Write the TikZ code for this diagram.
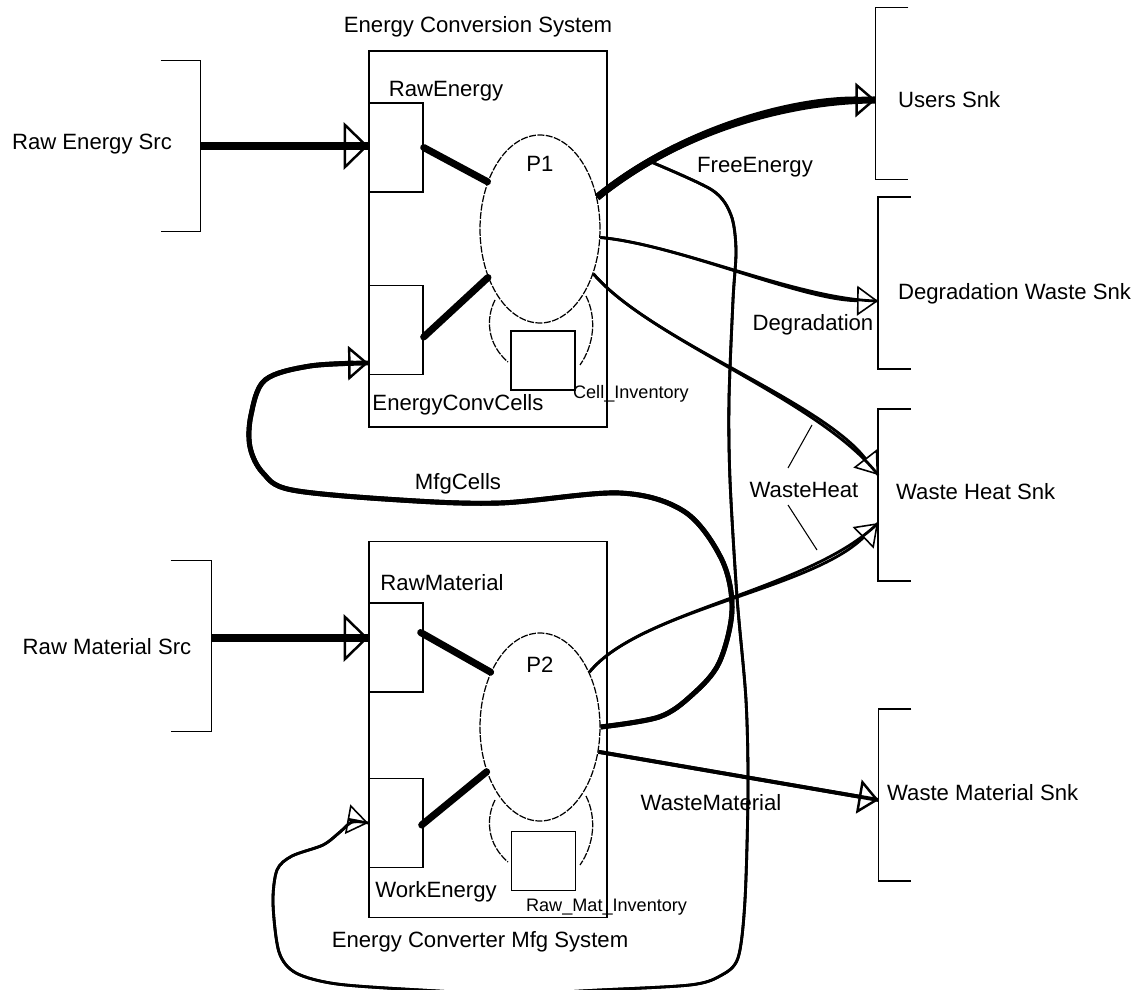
\documentclass[tikz,border=0pt]{standalone}
\usepackage{fontspec}
\setmainfont{Liberation Sans}
\usetikzlibrary{positioning, arrows.meta, shapes.geometric, calc}

\begin{document}
\begin{tikzpicture}[x=0.02cm, y=-0.02cm,
    lbl/.style={font=\fontsize{12.6}{14}\selectfont, inner sep=1pt},
    small/.style={font=\fontsize{10.3}{12}\selectfont, inner sep=1pt},
    sysbox/.style={draw, line width=0.8pt, minimum width=4.76cm, minimum height=7.52cm, inner sep=0pt},
    port/.style={draw, line width=0.8pt, minimum width=1.08cm, minimum height=1.78cm, inner sep=0pt},
    stock/.style={draw, line width=0.8pt, minimum width=1.28cm, minimum height=1.18cm, inner sep=0pt},
    proc/.style={draw, ellipse, line width=0.7pt, dash pattern=on 4pt off 0.8pt,
      minimum width=2.4cm, minimum height=3.76cm, inner sep=0pt},
    arc/.style={line width=0.7pt, dash pattern=on 4pt off 0.8pt},
    brk/.style={minimum width=0.64cm, minimum height=3.42cm, inner sep=0pt},
    heavy/.style={line width=4pt, line cap=round},
    heavyin/.style={line width=4pt},
    cellflow/.style={line width=2.8pt},
    flow/.style={line width=1.6pt},
    bighead/.style={postaction={draw, -{Triangle[open, length=14pt, width=27pt, line width=1.4pt]}}},
    midhead/.style={postaction={draw, -{Triangle[open, length=11.5pt, width=19.5pt, line width=1.4pt]}}},
    smallhead/.style={postaction={draw, -{Triangle[open, length=12pt, width=17pt, line width=0.9pt]}}}]
  \useasboundingbox (0,0) rectangle (1137,990);
  \clip (0,0) rectangle (1137,990);

  % the two systems
  \node[sysbox] (ecs) at (488,239) {};
  \node[sysbox] (mfg) at (488,729.5) {};
  \node[lbl] (ecslbl) at (478,27) {Energy Conversion System};
  \node[lbl] (mfglbl) at (480,942) {Energy Converter Mfg System};

  % ports
  \node[port] (rawen) at (396,147.5) {};
  \node[port] (eccells) at (396,330) {};
  \node[port] (rawmat) at (396,647.5) {};
  \node[port] (work) at (396,823) {};
  \node[lbl] (rawenlbl) at (446,91) {RawEnergy};
  \node[lbl] (eccellslbl) at (458,405) {EnergyConvCells};
  \node[lbl] (rawmatlbl) at (442,583) {RawMaterial};
  \node[lbl] (worklbl) at (436,892) {WorkEnergy};

  % processes and stocks
  \node[proc] (P1) at (540,229) {};
  \node[proc] (P2) at (540,727) {};
  \node[lbl] (p1lbl) at (540,164) {P1};
  \node[lbl] (p2lbl) at (540,665) {P2};
  \node[stock] (cellinv) at (543,360.5) {};
  \node[stock] (matinv) at (543.5,861) {};
  \node[small, anchor=west] (cellinvlbl) at (571,394) {Cell\_Inventory};
  \node[small, anchor=west] (matinvlbl) at (524,907) {Raw\_Mat\_Inventory};
  \foreach \dy in {0,500} {
    \draw[arc] (495,300+\dy) .. controls (485,320+\dy) and (488,345+\dy) .. (508,362+\dy);
    \draw[arc] (586,296+\dy) .. controls (597,318+\dy) and (594,345+\dy) .. (580,365+\dy);
  }

  % sources and sinks
  \node[brk, minimum width=0.78cm, minimum height=3.4cm] (rawesrc) at (180.5,146) {};
  \node[brk, minimum width=0.8cm, minimum height=3.4cm] (rawmsrc) at (191,646) {};
  \node[brk] (users) at (892,93.5) {};
  \node[brk] (degr) at (894.5,283) {};
  \node[brk] (wheat) at (894.5,495) {};
  \node[brk] (wmat) at (895,795) {};
  \foreach \s in {rawesrc, rawmsrc}
    \draw[line width=0.8pt] (\s.north west) -| (\s.east) |- (\s.south west);
  \foreach \s in {users, degr, wheat, wmat}
    \draw[line width=0.8pt] (\s.north east) -| (\s.west) |- (\s.south east);
  \node[lbl] (rawesrclbl) at (92,144) {Raw Energy Src};
  \node[lbl] (rawmsrclbl) at (107,647) {Raw Material Src};
  \node[lbl, anchor=west] (userslbl) at (896,100) {Users Snk};
  \node[lbl, anchor=west] (degrlbl) at (896,294) {Degradation Waste Snk};
  \node[lbl, anchor=west] (wheatlbl) at (894,492) {Waste Heat Snk};
  \node[lbl, anchor=west] (wmatlbl) at (885,793) {Waste Material Snk};

  % flow labels
  \node[lbl] (freelbl) at (755,167) {FreeEnergy};
  \node[lbl] (degflowlbl) at (813,325) {Degradation};
  \node[lbl] (heatlbl) at (804,490) {WasteHeat};
  \node[lbl] (wasteflowlbl) at (711,803) {WasteMaterial};
  \node[lbl] (mfgcellslbl) at (458,484) {MfgCells};
  \draw[line width=0.6pt] ($(heatlbl)+(8,-65)$) -- ($(heatlbl)+(-16,-22)$);
  \draw[line width=0.6pt] ($(heatlbl)+(-16,15)$) -- ($(heatlbl)+(13,60)$);

  % inputs
  \coordinate (rawmout) at ($(rawmsrc.east)+(0,-8)$);
  \draw[heavyin, bighead] (rawesrc.east) -- (rawesrc.east -| rawen.west);
  \draw[heavyin, bighead] (rawmout) -- (rawmout -| rawmat.west);
  \draw[heavy] (rawen.east) -- (P1.138);
  \draw[heavy] ($(eccells.east)+(0,7)$) -- (P1.223);
  \draw[heavy] ($(rawmat.east)+(-3,-15)$) -- (P2.132);
  \draw[heavy] ($(work.east)+(-2,2)$) -- (P2.220);

  % outputs of P1
  \draw[heavyin, midhead] (P1.29) .. controls (680,130) and (790,100) ..
    node[coordinate, pos=0.2] (fork) {} ($(users.west)+(0,6.5)$);
  \draw[flow, smallhead] (P1.352) .. controls (680,245) and (800,300) .. ($(degr.west)+(0,18)$);
  \draw[flow, smallhead] (P1.320) .. controls (650,340) and (820,400) .. ($(wheat.west)+(0,-20)$);

  % outputs of P2
  \draw[flow, smallhead] (P2.48) .. controls (640,610) and (810,590) .. ($(wheat.west)+(0,28)$);
  \draw[line width=2.2pt, midhead] (P2.337) -- ($(wmat.west)+(0,5)$);
  \coordinate (cellin) at ($(eccells.west)+(0,33)$);
  \draw[cellflow, midhead] plot[smooth, tension=0.55] coordinates {(P2.0) (659,717) (692,695)
    (719,663) (732,610) (722,560) (685,512) (620,493) (500,503) (400,500) (292,490)
    (263,473) (250,447) (251,415) (265,380) (310,366) (cellin)};

  % free energy loop back to work energy
  \draw[flow, smallhead] plot[smooth, tension=0.5] coordinates {(fork) (712,190) (731,215)
    (736,250) (733,300) (729,400) (730,480) (737,597) (746,700) (748,790) (745,900)
    (738,958) (720,976) (690,985) (600,990) (510,994) (420,990) (337,984) (296,973)
    (279,952) (273,903) (277,870) (292,856) (323,845) (340,832) (352,822) (work.west)};
\end{tikzpicture}
\end{document}
